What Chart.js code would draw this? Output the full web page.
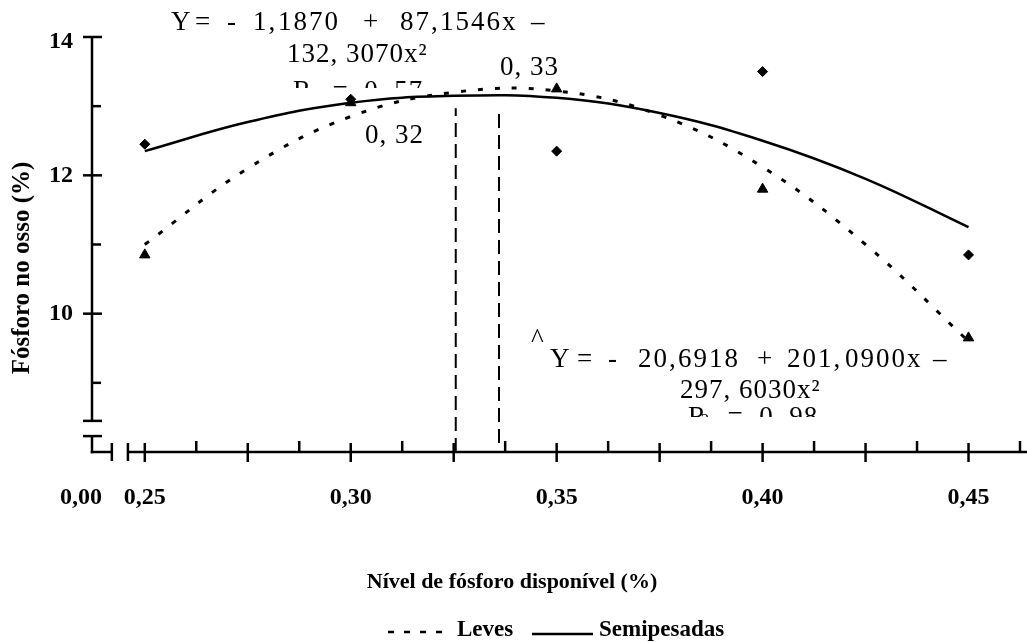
<!DOCTYPE html>
<html>
<head>
<meta charset="utf-8">
<script src="https://cdn.jsdelivr.net/npm/chart.js@4.4.0/dist/chart.umd.min.js"></script>
<style>
  body { margin: 0; background: #fff; }
  #wrap { position: relative; width: 1027px; height: 643px; }
</style>
</head>
<body>
<div id="wrap"><canvas id="grafico" width="1027" height="643"></canvas></div>
<script>
// nivel de fosforo disponivel (%)
var niveis = [0.25, 0.30, 0.35, 0.40, 0.45];
// fosforo no osso (%) - medias observadas
var leves_obs = [10.85, 13.05, 13.25, 11.8, 9.65];
var semi_obs = [12.45, 13.1, 12.35, 13.5, 10.85];

// curvas ajustadas (a cada 0,025)
var curva_x = [0.25, 0.275, 0.30, 0.325, 0.35, 0.375, 0.40, 0.425, 0.45];
var leves_curva = [11.0, 12.1, 12.85, 13.2, 13.22, 12.87, 12.12, 11.0, 9.6];
var semi_curva = [12.35, 12.77, 13.05, 13.15, 13.12, 12.9, 12.5, 11.95, 11.25];

// niveis de maxima resposta
var max_semi = 0.3255;
var max_leves = 0.336;
var topo_max = 12.97;

// eixos
var x_min = 0.23718, x_max = 0.4625;
var y_min = 8, y_max = 14;
var x_ticks = [0.25, 0.30, 0.35, 0.40, 0.45];
var x_labels = ['0,25', '0,30', '0,35', '0,40', '0,45'];
var y_ticks = [10, 12, 14];
var y_labels = ['10', '12', '14'];

// equacoes (partes da primeira linha)
var eq_semi = ['Y', '=', '-', '1,', '1870', '+', '87,', '1546x', '\u2013'];
var eq_leves = ['Y', '=', '-', '20,', '6918', '+', '201,', '0900x', '\u2013'];

function pares(xs, ys) {
  return xs.map(function (v, i) { return { x: v, y: ys[i] }; });
}

var serif = '"Liberation Serif", "Times New Roman", serif';

// eixos com quebra, rotulos, equacoes e legenda
var desenhoEixos = {
  id: 'desenhoEixos',
  afterDraw: function (chart) {
    var ctx = chart.ctx;
    var sx = chart.scales.x, sy = chart.scales.y;
    var x0 = chart.chartArea.left, yb = chart.chartArea.bottom;
    var i, v, p;

    ctx.save();
    ctx.strokeStyle = '#000';
    ctx.fillStyle = '#000';
    ctx.lineWidth = 2.5;
    ctx.lineCap = 'butt';

    function linha(a, b, c, d) {
      ctx.beginPath(); ctx.moveTo(a, b); ctx.lineTo(c, d); ctx.stroke();
    }

    // eixo y com quebra
    var yq1 = sy.getPixelForValue(8.45), yq2 = sy.getPixelForValue(8.23);
    linha(x0, sy.getPixelForValue(y_max), x0, yq1);
    linha(x0 - 9, yq1, x0 + 10, yq1);
    linha(x0 - 9, yq2, x0 + 10, yq2);
    linha(x0, yq2, x0, yb + 1.25);
    for (v = 9; v <= 14; v++) {
      p = sy.getPixelForValue(v);
      if (v % 2 === 0) linha(x0 - 9, p, x0 + 10, p);
      else linha(x0, p, x0 + 9, p);
    }

    // eixo x com quebra
    var xq1 = sx.getPixelForValue(0.2420), xq2 = sx.getPixelForValue(0.2459);
    linha(x0 - 1.25, yb, xq1, yb);
    linha(xq1, yb - 9, xq1, yb + 9);
    linha(xq2, yb - 9, xq2, yb + 9);
    linha(xq2, yb, chart.width, yb);
    for (i = 0; i <= 17; i++) {
      p = sx.getPixelForValue(0.25 + i * 0.0125);
      if (i % 2 === 0) linha(p, yb - 9, p, yb + 10);
      else linha(p, yb - 11, p, yb);
    }

    // rotulos dos eixos
    ctx.font = 'bold 24px ' + serif;
    ctx.textBaseline = 'middle';
    ctx.textAlign = 'center';
    x_labels.forEach(function (t, k) {
      ctx.fillText(t, sx.getPixelForValue(x_ticks[k]), 498);
    });
    ctx.fillText('0,00', 81, 498);
    ctx.textAlign = 'right';
    y_labels.forEach(function (t, k) {
      ctx.fillText(t, 73, sy.getPixelForValue(y_ticks[k]) + (k === 2 ? 5 : 0));
    });

    // titulos
    ctx.textAlign = 'center';
    ctx.font = 'bold 22px ' + serif;
    ctx.fillText('Nível de fósforo disponível (%)', 512, 582);
    ctx.save();
    ctx.translate(23, 268);
    ctx.rotate(-Math.PI / 2);
    ctx.font = 'bold 25px ' + serif;
    ctx.fillText('Fósforo no osso (%)', 0, 0);
    ctx.restore();

    // legenda
    ctx.lineWidth = 2.5;
    ctx.setLineDash([6, 10]);
    linha(388, 632, 452, 632);
    ctx.setLineDash([]);
    linha(532, 634, 593, 634);
    ctx.textAlign = 'left';
    ctx.font = 'bold 23px ' + serif;
    ctx.fillText('Leves', 457, 630);
    ctx.fillText('Semipesadas', 599, 630);

    // equacoes
    ctx.textBaseline = 'alphabetic';
    ctx.font = '27px ' + serif;
    ctx.letterSpacing = '2px';
    var pos_semi = [171, 195, 227, 253, 278, 363, 400, 440, 531];
    var pos_leves = [550, 577, 608, 638, 678, 757, 787, 845, 933];
    eq_semi.forEach(function (t, k) { ctx.fillText(t, pos_semi[k], 30); });
    eq_leves.forEach(function (t, k) { ctx.fillText(t, pos_leves[k], 367); });

    ctx.letterSpacing = '1px';
    ctx.fillText('132, 3070x\u00b2', 287, 62);
    ctx.fillText('297, 6030x\u00b2', 680, 398);
    ctx.fillText('0, 33', 500, 75);
    ctx.fillText('0, 32', 365, 143);
    ctx.fillText('^', 531, 347);

    // linhas do R2 cortadas pela caixa de texto
    function linhaR(x, yTopo, yCorte, resto) {
      ctx.save();
      ctx.beginPath();
      ctx.rect(0, yTopo - 10, chart.width, yCorte - yTopo + 10);
      ctx.clip();
      ctx.font = '27px ' + serif;
      ctx.fillText('R', x, yTopo + 18);
      ctx.font = '16px ' + serif;
      ctx.fillText('2', x + 13, yTopo + 18);
      ctx.font = '27px ' + serif;
      ctx.fillText(resto, x + 24, yTopo + 18);
      ctx.restore();
    }
    linhaR(293, 81, 88, '  =  0, 57');
    linhaR(688, 407, 417, '  =  0, 98');

    ctx.restore();
  }
};

var ctx = document.getElementById('grafico');
var chart = new Chart(ctx, {
  type: 'line',
  data: {
    datasets: [
      {
        label: 'Leves',
        data: pares(curva_x, leves_curva),
        borderColor: '#000',
        borderWidth: 3,
        borderDash: [5, 12],
        pointRadius: 0,
        tension: 0.4,
        fill: false
      },
      {
        label: 'Semipesadas',
        data: pares(curva_x, semi_curva),
        borderColor: '#000',
        borderWidth: 2.5,
        pointRadius: 0,
        tension: 0.4,
        fill: false
      },
      {
        label: 'Leves obs',
        data: pares(niveis, leves_obs),
        showLine: false,
        pointStyle: 'triangle',
        pointRadius: 6,
        backgroundColor: '#000',
        borderColor: '#000',
        borderWidth: 1
      },
      {
        label: 'Semipesadas obs',
        data: pares(niveis, semi_obs),
        showLine: false,
        pointStyle: 'rectRot',
        pointRadius: 5,
        backgroundColor: '#000',
        borderColor: '#000',
        borderWidth: 1
      },
      {
        label: 'max semipesadas',
        data: [{ x: max_semi, y: y_min }, { x: max_semi, y: topo_max }],
        borderColor: '#000',
        borderWidth: 2,
        borderDash: [14, 7],
        pointRadius: 0
      },
      {
        label: 'max leves',
        data: [{ x: max_leves, y: 8.13 }, { x: max_leves, y: topo_max }],
        borderColor: '#000',
        borderWidth: 2,
        borderDash: [14, 7],
        pointRadius: 0
      }
    ]
  },
  options: {
    responsive: false,
    devicePixelRatio: 1,
    animation: false,
    layout: { padding: { left: 92, top: 37, right: 3.3, bottom: 191 } },
    plugins: { legend: { display: false }, tooltip: { enabled: false } },
    scales: {
      x: { type: 'linear', min: x_min, max: x_max, display: false },
      y: { type: 'linear', min: y_min, max: y_max, display: false }
    }
  },
  plugins: [desenhoEixos]
});
</script>
</body>
</html>
